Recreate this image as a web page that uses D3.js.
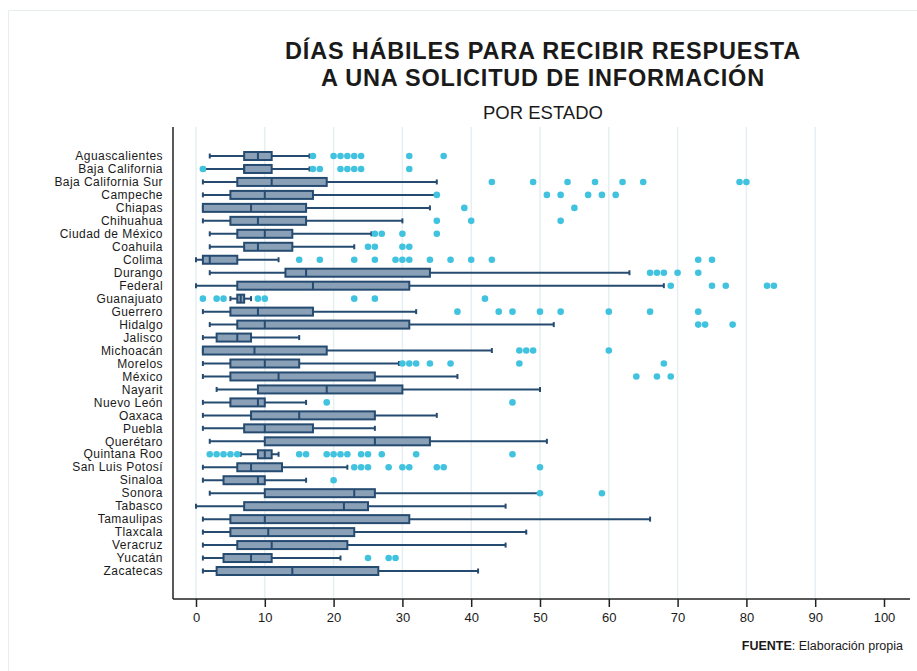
<!DOCTYPE html>
<html>
<head>
<meta charset="utf-8">
<script src="https://cdn.jsdelivr.net/npm/d3@7"></script>
<style>
  body { margin: 0; background: #fff; }
  svg { font-family: "Liberation Sans", Arial, sans-serif; }
</style>
</head>
<body>
<script>
// Datos: días hábiles para recibir respuesta, por estado
const states = ['Aguascalientes', 'Baja California', 'Baja California Sur', 'Campeche', 'Chiapas',
  'Chihuahua', 'Ciudad de México', 'Coahuila', 'Colima', 'Durango', 'Federal', 'Guanajuato',
  'Guerrero', 'Hidalgo', 'Jalisco', 'Michoacán', 'Morelos', 'México', 'Nayarit', 'Nuevo León',
  'Oaxaca', 'Puebla', 'Querétaro', 'Quintana Roo', 'San Luis Potosí', 'Sinaloa', 'Sonora',
  'Tabasco', 'Tamaulipas', 'Tlaxcala', 'Veracruz', 'Yucatán', 'Zacatecas'];

const whiskerLo = [2, 1.2, 1, 1, 1, 1, 2, 2, 0, 2, 0, 5, 1, 2, 1, 1, 1, 1, 3, 1, 1, 1, 2, 6.5, 1, 1, 2, 0, 1, 1, 1, 1, 1];
const q1 =        [7, 7, 6, 5, 1, 5, 6, 7, 1, 13, 6, 6, 5, 6, 3, 1, 5, 5, 9, 5, 8, 7, 10, 9, 6, 4, 10, 7, 5, 5, 6, 4, 3];
const median =    [9, 7, 11, 10, 8, 9, 10, 9, 2, 16, 17, 6.5, 9, 10, 6, 8.5, 10, 12, 19, 9, 15, 10, 26, 10, 8, 9, 23, 21.5, 10, 10.5, 11, 8, 14];
const q3 =        [11, 11, 19, 17, 16, 16, 14, 14, 6, 34, 31, 7, 17, 31, 8, 19, 15, 26, 30, 10, 26, 17, 34, 11, 12.5, 10, 26, 25, 31, 23, 22, 11, 26.5];
const whiskerHi = [16.5, 16.5, 35, 35, 34, 30, 25.5, 23, 12, 63, 68, 8, 32, 52, 15, 43, 29.5, 38, 50, 16, 35, 26, 51, 12, 22, 16, 50, 45, 66, 48, 45, 21, 41];
const outliers = [
  [17, 20, 21, 22, 23, 24, 31, 36],
  [1, 17, 18, 21, 22, 23, 24, 31],
  [43, 49, 54, 58, 62, 65, 79, 80],
  [35, 51, 53, 57, 59, 61],
  [39, 55],
  [35, 40, 53],
  [26, 27, 30, 35],
  [25, 26, 30, 31],
  [15, 18, 23, 26, 29, 30, 31, 34, 37, 40, 43, 73, 75],
  [66, 67, 68, 70, 73],
  [69, 75, 77, 83, 84],
  [1, 3, 4, 9, 10, 23, 26, 42],
  [38, 44, 46, 50, 53, 60, 66, 73],
  [73, 74, 78],
  [],
  [47, 48, 49, 60],
  [30, 31, 32, 34, 37, 47, 68],
  [64, 67, 69],
  [],
  [19, 46],
  [],
  [],
  [],
  [2, 3, 4, 5, 6, 15, 16, 19, 20, 21, 22, 24, 25, 27, 32, 46],
  [23, 24, 25, 28, 30, 31, 35, 36, 50],
  [20],
  [50, 59],
  [],
  [],
  [],
  [],
  [25, 28, 29],
  []
];

const xTicks = [0, 10, 20, 30, 40, 50, 60, 70, 80, 90, 100];
const gridTicks = [0, 10, 20, 30, 40, 50, 60, 70, 80, 90];

const W = 917, H = 671;
const svg = d3.select('body').append('svg')
  .attr('width', W)
  .attr('height', H);

// marco claro de la imagen
svg.append('path')
  .attr('d', 'M8.5,' + H + 'V10.5H' + W)
  .attr('fill', 'none')
  .attr('stroke', '#e8eef0')
  .attr('stroke-width', 1);

const plot = { left: 173, right: 910, top: 127, bottom: 599 };

const x = d3.scaleLinear().domain([0, 100]).range([196, 884]);
const y = d3.scalePoint().domain(states).range([156, 571]);

// rejilla vertical
svg.append('g')
  .selectAll('line')
  .data(gridTicks)
  .join('line')
  .attr('x1', d => x(d)).attr('x2', d => x(d))
  .attr('y1', plot.top).attr('y2', plot.bottom)
  .attr('stroke', '#e6eff2')
  .attr('stroke-width', 1.5);

// títulos
svg.append('text')
  .attr('x', 543).attr('y', 59)
  .attr('text-anchor', 'middle')
  .style('font-size', '23.5px').style('font-weight', 'bold')
  .style('letter-spacing', '0.8px')
  .attr('fill', '#1a1a1a')
  .text('DÍAS HÁBILES PARA RECIBIR RESPUESTA');
svg.append('text')
  .attr('x', 543).attr('y', 86)
  .attr('text-anchor', 'middle')
  .style('font-size', '23.5px').style('font-weight', 'bold')
  .style('letter-spacing', '0.8px')
  .attr('fill', '#1a1a1a')
  .text('A UNA SOLICITUD DE INFORMACIÓN');
svg.append('text')
  .attr('x', 543).attr('y', 119)
  .attr('text-anchor', 'middle')
  .style('font-size', '18.5px')
  .attr('fill', '#1a1a1a')
  .text('POR ESTADO');

// eje x
const xAxis = d3.axisBottom(x)
  .tickValues(xTicks)
  .tickSize(8)
  .tickPadding(6);

const gx = svg.append('g')
  .attr('transform', `translate(0,${plot.bottom})`)
  .call(xAxis);
gx.select('.domain').remove();
gx.selectAll('.tick line').attr('stroke', '#222').attr('stroke-width', 1.5);
gx.selectAll('.tick text')
  .attr('fill', '#1a1a1a')
  .style('font-size', '13px')
  .style('font-family', '"Liberation Sans", Arial, sans-serif');

svg.append('line')
  .attr('x1', plot.left).attr('x2', plot.right)
  .attr('y1', plot.bottom).attr('y2', plot.bottom)
  .attr('stroke', '#222').attr('stroke-width', 1.5);
svg.append('line')
  .attr('x1', plot.left).attr('x2', plot.left)
  .attr('y1', plot.top).attr('y2', plot.bottom)
  .attr('stroke', '#222').attr('stroke-width', 1.5);

// etiquetas de estados
svg.append('g')
  .selectAll('text')
  .data(states)
  .join('text')
  .attr('x', 163)
  .attr('y', d => y(d))
  .attr('dy', '0.35em')
  .attr('text-anchor', 'end')
  .style('font-size', '12px')
  .style('letter-spacing', '0.45px')
  .attr('fill', '#1a1a1a')
  .text(d => d);

const boxColor = '#8aa0b7';
const lineColor = '#264b71';
const dotColor = '#41c3df';
const boxH = 8;

const rows = states.map((s, i) => ({
  state: s, lo: whiskerLo[i], q1: q1[i], med: median[i], q3: q3[i], hi: whiskerHi[i], out: outliers[i]
}));

const g = svg.append('g');

// bigotes
g.selectAll('.whisker')
  .data(rows)
  .join('line')
  .attr('class', 'whisker')
  .attr('x1', d => x(d.lo)).attr('x2', d => x(d.hi))
  .attr('y1', d => y(d.state)).attr('y2', d => y(d.state))
  .attr('stroke', lineColor).attr('stroke-width', 2);

g.selectAll('.cap-lo')
  .data(rows)
  .join('line')
  .attr('class', 'cap-lo')
  .attr('x1', d => x(d.lo)).attr('x2', d => x(d.lo))
  .attr('y1', d => y(d.state) - 2.5).attr('y2', d => y(d.state) + 2.5)
  .attr('stroke', lineColor).attr('stroke-width', 2);

g.selectAll('.cap-hi')
  .data(rows)
  .join('line')
  .attr('class', 'cap-hi')
  .attr('x1', d => x(d.hi)).attr('x2', d => x(d.hi))
  .attr('y1', d => y(d.state) - 2.5).attr('y2', d => y(d.state) + 2.5)
  .attr('stroke', lineColor).attr('stroke-width', 2);

// cajas
g.selectAll('.box')
  .data(rows)
  .join('rect')
  .attr('class', 'box')
  .attr('x', d => x(d.q1))
  .attr('width', d => x(d.q3) - x(d.q1))
  .attr('y', d => y(d.state) - boxH / 2)
  .attr('height', boxH)
  .attr('fill', boxColor)
  .attr('stroke', lineColor).attr('stroke-width', 2);

g.selectAll('.median')
  .data(rows)
  .join('line')
  .attr('class', 'median')
  .attr('x1', d => x(d.med)).attr('x2', d => x(d.med))
  .attr('y1', d => y(d.state) - boxH / 2).attr('y2', d => y(d.state) + boxH / 2)
  .attr('stroke', lineColor).attr('stroke-width', 2);

// valores atípicos
g.selectAll('.outlier')
  .data(rows.flatMap(r => r.out.map(v => ({ state: r.state, v }))))
  .join('circle')
  .attr('class', 'outlier')
  .attr('cx', d => x(d.v))
  .attr('cy', d => y(d.state))
  .attr('r', 3.3)
  .attr('fill', dotColor);

// fuente
const src = svg.append('text')
  .attr('x', 903).attr('y', 650)
  .attr('text-anchor', 'end')
  .style('font-size', '12.5px')
  .attr('fill', '#1a1a1a');
src.append('tspan').style('font-weight', 'bold').text('FUENTE');
src.append('tspan').text(': Elaboración propia');
</script>
</body>
</html>
